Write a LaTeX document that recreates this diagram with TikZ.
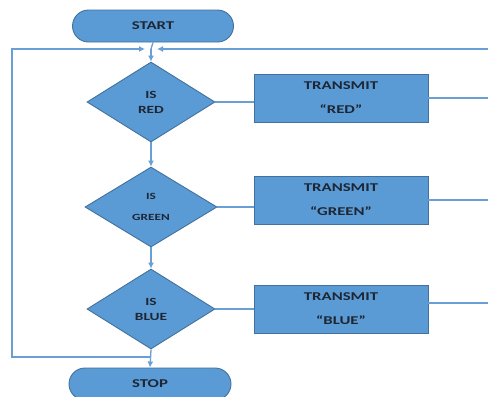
\documentclass[tikz,border=0pt]{standalone}
\usepackage{fontspec}
\setmainfont[FakeStretch=1.4]{Carlito}
\usetikzlibrary{shapes.geometric,arrows.meta}
\definecolor{fillb}{HTML}{5B9BD5}
\definecolor{edgeb}{HTML}{41719C}
\definecolor{lineb}{HTML}{6A9FD6}
\definecolor{txt}{HTML}{1E2633}
\tikzset{
  shapebase/.style={fill=fillb, draw=edgeb, line width=0.9bp, text=txt, align=center, inner sep=0pt},
  terminal/.style={shapebase, rectangle, rounded corners=16bp, minimum width=161bp, minimum height=32bp,
                   font=\bfseries\fontsize{12}{14}\selectfont},
  decision/.style={shapebase, diamond, minimum width=128bp, minimum height=80bp,
                   font=\bfseries\fontsize{11}{15}\selectfont},
  actionbox/.style={shapebase, rectangle, minimum width=174bp, minimum height=48bp,
                   font=\bfseries\fontsize{12}{14}\selectfont},
  conn/.style={draw=lineb, line width=1.3bp},
  arr/.style={conn, -{Latex[length=6bp,width=6bp]}}
}
\begin{document}
\begin{tikzpicture}[x=1bp,y=-1bp]
\useasboundingbox[fill=white] (0,0) rectangle (488,396);
% nodes
\node[terminal] (start) at (153,26) {START};
\node[decision] (isred) at (151,102) {IS\\RED};
\node[decision, minimum width=132bp, font=\bfseries\fontsize{9.5}{21}\selectfont] (isgreen) at (151,207) {IS\\GREEN};
\node[decision] (isblue) at (151,309) {IS\\BLUE};
\node[terminal, minimum width=162bp] (stop) at (150,384) {STOP};
\node[actionbox] (txred) at (341,98) {TRANSMIT\\[10bp]“RED”};
\node[actionbox] (txgreen) at (341,200) {TRANSMIT\\[10bp]“GREEN”};
\node[actionbox] (txblue) at (341,309) {TRANSMIT\\[10bp]“BLUE”};
% coordinates
\coordinate (jtop) at (151,49);
\coordinate (tipl) at (145,49);
\coordinate (tipr) at (157,49);
\coordinate (jbot) at (151,357);
\coordinate (lcorner) at (12,49);
\coordinate (rtop) at (490,49);
\coordinate (rred) at (490,98);
\coordinate (rgreen) at (490,200);
\coordinate (rblue) at (490,303);
% connectors
\draw[conn] (start.south) -- (jtop);
\draw[arr] (jtop) -- (isred.north);
\draw[arr] (isred.south) -- (isgreen.north);
\draw[arr] (isgreen.south) -- (isblue.north);
\draw[arr] (isblue.south) -- (stop.north);
\draw[arr] (jbot) -| (lcorner) -- (tipl);
\draw[arr] (rtop) -- (tipr);
\draw[conn] (isred.east) -- (isred.east -| txred.west);
\draw[conn] (isgreen.east) -- (isgreen.east -| txgreen.west);
\draw[conn] (isblue.east) -- (isblue.east -| txblue.west);
\draw[conn] (txred.east |- rred) -- (rred);
\draw[conn] (txgreen.east |- rgreen) -- (rgreen);
\draw[conn] (txblue.east |- rblue) -- (rblue);
\end{tikzpicture}
\end{document}
